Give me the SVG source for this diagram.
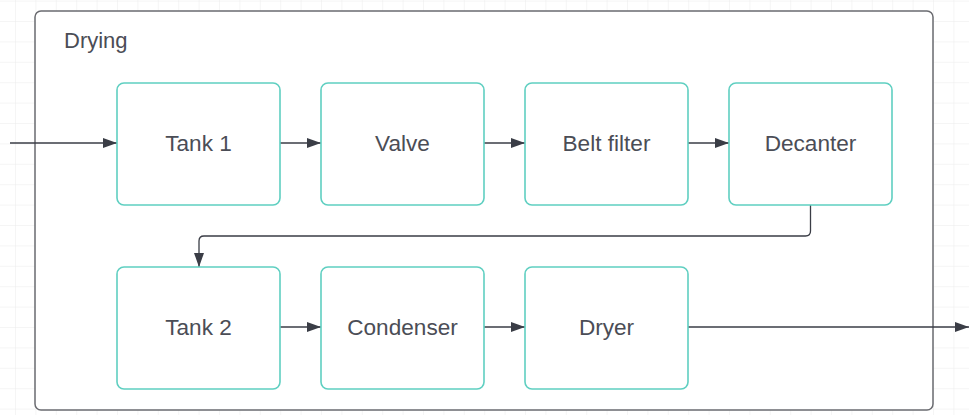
<svg xmlns="http://www.w3.org/2000/svg" width="969" height="415" viewBox="0 0 969 415">
<style>
.node rect{fill:#ffffff;stroke:#5fcfc1;stroke-width:1.6}
.node text,.label{font-family:"Liberation Sans",Arial,sans-serif;font-size:22.6px;fill:#4b4d56;text-anchor:middle}
.label{text-anchor:start;font-size:22px}
.conn path{fill:none;stroke:#3a3d46;stroke-width:1.3}
</style>
<defs>
<pattern id="grid" x="15" y="21" width="20.4" height="20.4" patternUnits="userSpaceOnUse">
<path d="M0 0V20.4M0 0H20.4" fill="none" stroke="#ebebeb" stroke-width="1"/>
</pattern>
<marker id="arr" viewBox="0 0 14 10" refX="14" refY="5" markerWidth="14" markerHeight="10" markerUnits="userSpaceOnUse" orient="auto">
<path d="M0 0L14 5L0 10z" fill="#3a3d46"/>
</marker>
</defs>
<rect width="969" height="415" fill="#ffffff"/>
<rect width="969" height="415" fill="url(#grid)"/>
<g id="container">
<rect x="35" y="11" width="898" height="399" rx="6" fill="#ffffff" stroke="#6a6b70" stroke-width="1.5"/>
<text class="label" x="64" y="48">Drying</text>
</g>
<g class="conn" id="connectors">
<path d="M10 143H117" marker-end="url(#arr)"/>
<path d="M280 143H321" marker-end="url(#arr)"/>
<path d="M484 143H525" marker-end="url(#arr)"/>
<path d="M688 143H729" marker-end="url(#arr)"/>
<path d="M810.5 205V231Q810.5 236 805.5 236H204Q199 236 199 241V267" marker-end="url(#arr)"/>
<path d="M280 327H321" marker-end="url(#arr)"/>
<path d="M484 327H525" marker-end="url(#arr)"/>
<path d="M688 327H969" marker-end="url(#arr)"/>
</g>
<g class="node" id="tank1"><rect x="117" y="83" width="163" height="122" rx="7"/><text x="198.5" y="151">Tank 1</text></g>
<g class="node" id="valve"><rect x="321" y="83" width="163" height="122" rx="7"/><text x="402.5" y="151">Valve</text></g>
<g class="node" id="beltfilter"><rect x="525" y="83" width="163" height="122" rx="7"/><text x="606.5" y="151">Belt filter</text></g>
<g class="node" id="decanter"><rect x="729" y="83" width="163" height="122" rx="7"/><text x="810.5" y="151">Decanter</text></g>
<g class="node" id="tank2"><rect x="117" y="267" width="163" height="122" rx="7"/><text x="198.5" y="335">Tank 2</text></g>
<g class="node" id="condenser"><rect x="321" y="267" width="163" height="122" rx="7"/><text x="402.5" y="335">Condenser</text></g>
<g class="node" id="dryer"><rect x="525" y="267" width="163" height="122" rx="7"/><text x="606.5" y="335">Dryer</text></g>
</svg>
